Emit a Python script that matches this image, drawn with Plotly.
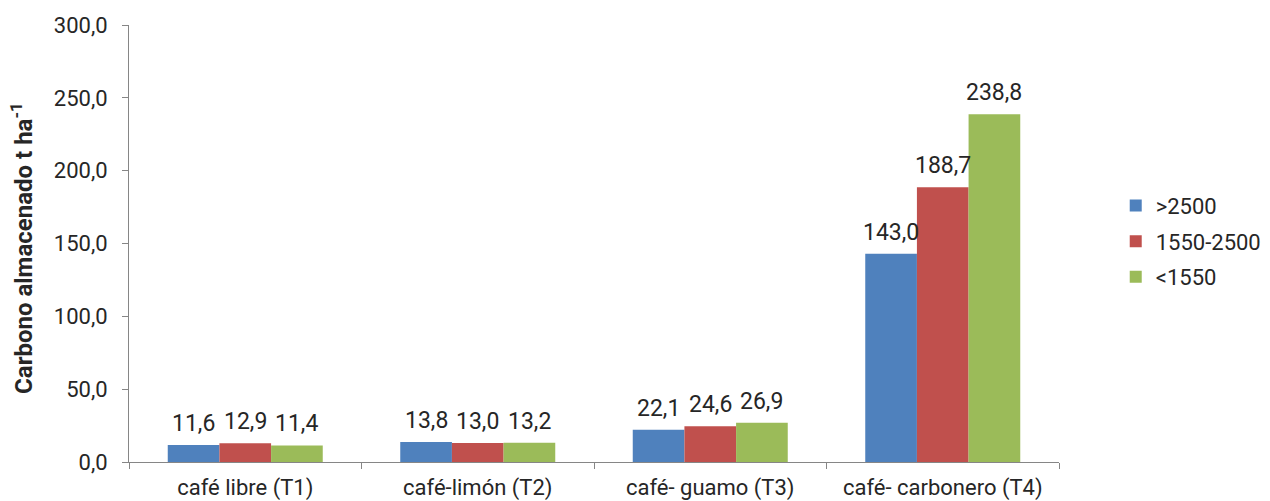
import plotly.graph_objects as go

# Carbon stored per coffee system, by altitude class
categories = ["café libre (T1)", "café-limón (T2)", "café- guamo (T3)", "café- carbonero (T4)"]
series_names = [">2500", "1550-2500", "<1550"]
values_gt2500 = [11.6, 13.8, 22.1, 143.0]
values_1550_2500 = [12.9, 13.0, 24.6, 188.7]
values_lt1550 = [11.4, 13.2, 26.9, 238.8]
y_tick_values = [0, 50, 100, 150, 200, 250, 300]
y_tick_labels = ["0,0", "50,0", "100,0", "150,0", "200,0", "250,0", "300,0"]

colors = ["#4F81BD", "#C0504D", "#9BBB59"]
text_color = "#262626"
axis_color = "#868686"
font_family = "Roboto"

all_series = [values_gt2500, values_1550_2500, values_lt1550]

fig = go.Figure()
for i, (name, vals) in enumerate(zip(series_names, all_series)):
    fig.add_trace(go.Bar(
        x=categories, y=vals, name=name,
        marker=dict(color=colors[i], line=dict(width=0)),
        legendgroup=name,
    ))

bargap = 1 / 3
bar_w = (1 - bargap) / 3
annotations = []
for i, vals in enumerate(all_series):
    for j, v in enumerate(vals):
        annotations.append(dict(
            x=j + (i - 1) * bar_w, y=v, xref="x", yref="y",
            text=f"{v:.1f}".replace(".", ","),
            showarrow=False, xanchor="center", yanchor="bottom", yshift=6,
            font=dict(family=font_family, size=23, color=text_color),
        ))

annotations.append(dict(
    x=-0.115, y=0.49, xref="paper", yref="paper",
    text="<b>Carbono almacenado t ha<sup>-1</sup></b>",
    textangle=-90, showarrow=False, xanchor="center", yanchor="middle",
    font=dict(family=font_family, size=24, color=text_color),
))

fig.update_layout(
    width=1270, height=501,
    margin=dict(l=129, r=211, t=25, b=39, pad=0, autoexpand=False),
    paper_bgcolor="white", plot_bgcolor="white",
    barmode="group", bargap=bargap, bargroupgap=0,
    font=dict(family=font_family, size=22, color=text_color),
    showlegend=True,
    legend=dict(
        x=1.061, y=0.505, xanchor="left", yanchor="middle",
        font=dict(family=font_family, size=22, color=text_color),
        tracegroupgap=4, bgcolor="rgba(0,0,0,0)",
    ),
    annotations=annotations,
    xaxis=dict(
        type="category", showline=True, linecolor=axis_color, linewidth=1,
        ticks="outside", tickson="boundaries", ticklen=6, tickcolor=axis_color,
        tickfont=dict(family=font_family, size=22, color=text_color),
        ticklabelstandoff=6, automargin=False,
        showgrid=False, zeroline=False,
    ),
    yaxis=dict(
        range=[0, 300], tickvals=y_tick_values, ticktext=y_tick_labels,
        showline=True, linecolor=axis_color, linewidth=1,
        ticks="outside", ticklen=6, tickcolor=axis_color,
        tickfont=dict(family=font_family, size=22, color=text_color),
        ticklabelstandoff=10, automargin=False,
        showgrid=False, zeroline=False,
    ),
)

fig.write_html("out.html")
